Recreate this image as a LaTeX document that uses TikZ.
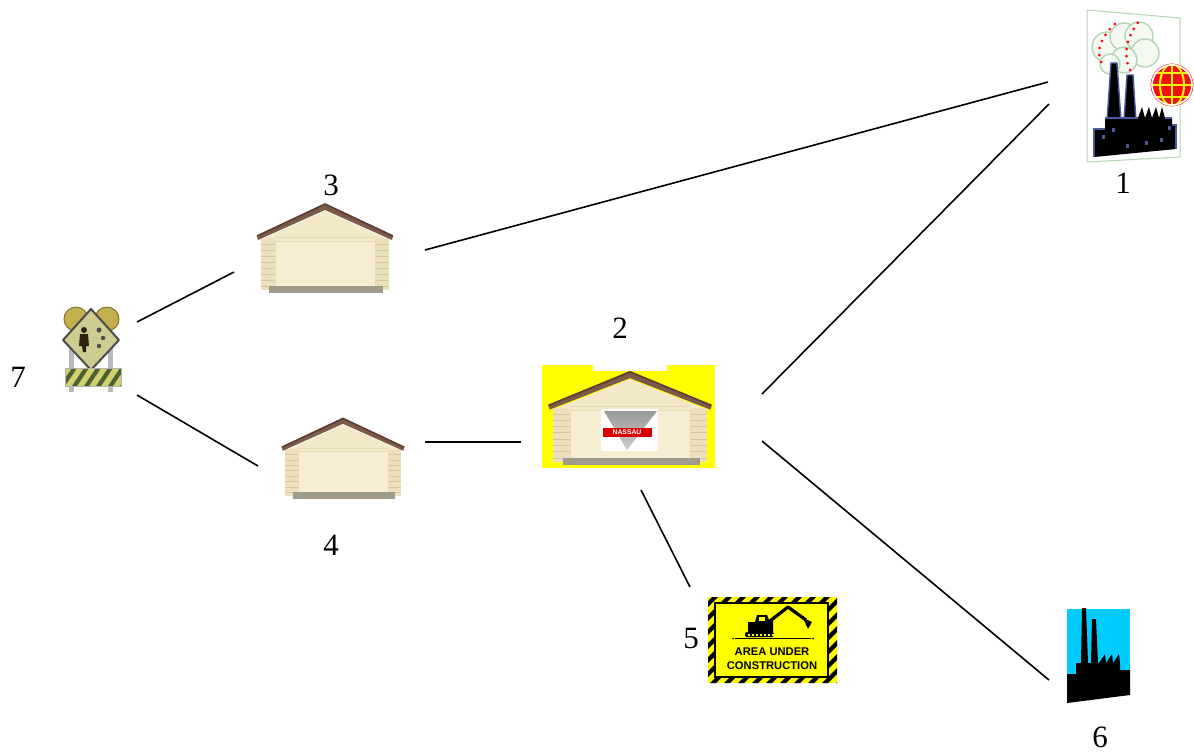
\documentclass[tikz,border=0pt]{standalone}
\usepackage{fontspec}
\setmainfont{Liberation Serif}
\newfontfamily\signfont{Liberation Sans}
\begin{document}
\definecolor{wallC}{HTML}{F3E8C8}
\definecolor{sideC}{HTML}{EDE0BE}
\definecolor{sidingC}{HTML}{D6C69E}
\definecolor{doorC}{HTML}{F6EDD2}
\definecolor{doorEdgeC}{HTML}{E6D9B8}
\definecolor{baseC}{HTML}{A09A8A}
\definecolor{roofC}{HTML}{7B5A4A}
\definecolor{roofDarkC}{HTML}{5A3C30}
\definecolor{signYellow}{HTML}{FFFF00}
\definecolor{skyCyan}{HTML}{00CCFF}
\definecolor{edgeBlue}{HTML}{4A5A9A}
\definecolor{paleGreen}{HTML}{B4D4B4}
\definecolor{cloudFill}{HTML}{F4F9F2}
\definecolor{globeRed}{HTML}{F01010}
\definecolor{olive}{HTML}{C2B050}
\definecolor{oliveDark}{HTML}{857630}
\definecolor{diamondC}{HTML}{CDCD92}
\definecolor{barC}{HTML}{D0D070}
\definecolor{barDark}{HTML}{4E6030}
\begin{tikzpicture}[x=0.5pt,y=-0.5pt,
  lbl/.style={font=\fontsize{15.5}{18}\selectfont, inner sep=0pt},
  link/.style={line width=0.8pt, black},
  iconbox/.style={inner sep=0pt, minimum width=#1},
  garage/.pic={
    % gable wall
    \fill[wallC] (-60,-10) -- (0,-37) -- (60,-10) -- (60,42) -- (-60,42) -- cycle;
    % side columns with siding
    \fill[sideC] (-64,-10) rectangle (-50,42);
    \fill[sideC] (50,-10) rectangle (64,42);
    \foreach \yy in {-4,2,...,40}{
      \draw[sidingC, line width=0.3pt] (-64,\yy) -- (-50,\yy);
      \draw[sidingC, line width=0.3pt] (50,\yy) -- (64,\yy);
    }
    % door
    \fill[doorC] (-50,-7) rectangle (50,39);
    \draw[doorEdgeC, line width=0.4pt] (-50,-7) rectangle (50,39);
    \draw[doorEdgeC, line width=0.3pt] (-50,-11) -- (50,-11);
    % base strip
    \fill[baseC] (-56,38) rectangle (58,45);
    % roof
    \fill[roofC] (-68,-12) -- (0,-44) -- (68,-12) -- (67,-8) -- (0,-38) -- (-67,-8) -- cycle;
    \draw[roofDarkC, line width=0.8pt, line join=round] (-68,-12) -- (0,-44) -- (68,-12);
  }
]
\useasboundingbox (0,0) rectangle (1194,752);
\fill[white] (0,0) rectangle (1194,752);

% ---------- node 3 : garage ----------
\node[iconbox=67pt, minimum height=45pt] (n3) at (325,248) {};
\pic at (n3) {garage};
\node[lbl] (l3) at (331,185) {3};

% ---------- node 4 : garage ----------
\node[iconbox=60pt, minimum height=40pt] (n4) at (343,458) {};
\pic[scale=0.9] at (n4) {garage};
\node[lbl] (l4) at (331,545) {4};

% ---------- node 2 : garage with logo ----------
\node[iconbox=86pt, minimum height=51pt] (n2) at (628,416) {};
\fill[signYellow] (542,365) rectangle (715,468);
\fill[white] (593,364) rectangle (667,371);
\pic[xscale=1.2, yscale=1.05] at (630,418) {garage};
\fill[white] (601,409) rectangle (658,451);
\shade[top color=gray!80, bottom color=gray!40] (604,411) -- (657,411) -- (627,450) -- cycle;
\fill[red!85!black] (603,428) rectangle (652,437);
\node[inner sep=0pt, text=white, font=\signfont\bfseries\fontsize{3.4}{4}\selectfont] (logo) at (627,432.5) {NASSAU};
\node[lbl] (l2) at (620,328) {2};

% ---------- node 1 : factory with globe ----------
\node[iconbox=50pt, minimum height=76pt] (n1) at (1133,86) {};
\draw[paleGreen, fill=white, line width=0.5pt] (1087,10) -- (1180,18) -- (1180,157) -- (1087,162) -- cycle;
\foreach \cx/\cy/\r in {1107/47/15, 1124/37/14, 1139/36/14, 1145/53/14, 1124/60/13, 1110/64/10}
  \draw[paleGreen, fill=cloudFill, line width=0.7pt] (\cx,\cy) circle (\r);
\draw[red, line width=1.5pt, line cap=round, dash pattern=on 0pt off 3.6pt]
  (1101,62) .. controls (1094,45) and (1108,30) .. (1118,21);
\draw[red, line width=1.5pt, line cap=round, dash pattern=on 0pt off 3.6pt]
  (1130,70) .. controls (1121,50) and (1130,32) .. (1140,20);
% chimneys
\draw[edgeBlue, fill=black, line width=0.7pt] (1111,63) -- (1117,63) -- (1121,121) -- (1107,121) -- cycle;
\draw[edgeBlue, fill=black, line width=0.7pt] (1127,75) -- (1133,75) -- (1136,121) -- (1124,121) -- cycle;
% building
\fill[black] (1094,157) -- (1094,129) -- (1105,129) -- (1105,118) -- (1138,118)
  -- (1142,107) -- (1145,118) -- (1149,107) -- (1152,118) -- (1156,107) -- (1159,118)
  -- (1162,107) -- (1165,118) -- (1172,118) -- (1172,125) -- (1176,125) -- (1176,149) -- cycle;
\draw[edgeBlue, line width=0.7pt] (1094,157) -- (1094,129) -- (1105,129) (1105,118) -- (1138,118)
  (1165,118) -- (1172,118) (1172,125) -- (1176,125) -- (1176,149);
\foreach \wx/\wy in {1102/135, 1112/128, 1126/144, 1145/141, 1160/138, 1168/126}
  \fill[edgeBlue] (\wx,\wy) rectangle ++(3,4);
% globe
\fill[globeRed] (1172,85) circle (22);
\begin{scope}
  \clip (1172,85) circle (21);
  \draw[yellow, line width=1pt] (1150,85) -- (1194,85) (1150,73) -- (1194,73) (1150,97) -- (1194,97)
    (1172,63) -- (1172,107);
  \draw[yellow, line width=1pt] (1172,85) ellipse (12 and 21);
\end{scope}
\draw[white, line width=0.8pt] (1172,85) circle (20);
\draw[white, line width=0.5pt] (1172,85) circle (22);
\node[lbl] (l1) at (1123,183) {1};

% ---------- node 5 : construction sign ----------
\node[iconbox=65pt, minimum height=43pt] (n5) at (772,640) {};
\begin{scope}
  \clip (708,597) rectangle (837,683);
  \fill[signYellow] (708,597) rectangle (837,683);
  \foreach \s in {600,614,...,940}
    \fill[black] (\s,597) -- (\s+6,597) -- (\s-80,683) -- (\s-86,683) -- cycle;
\end{scope}
\draw[black, fill=signYellow, line width=0.8pt] (715,603) rectangle (828,677);
% excavator
\fill[black] (748,632) -- (748,622) -- (755,622) -- (757,615) -- (767,615) -- (769,620) -- (773,620) -- (773,632) -- cycle;
\fill[signYellow] (759,617) rectangle (765,621);
\draw[black, line width=1.6pt, line join=round] (770,621) -- (788,607) -- (806,620);
\fill[black] (803,618) -- (812,622) -- (808,629) -- cycle;
\fill[black, rounded corners=1pt] (745,632) rectangle (774,637);
\foreach \tx in {748,752,...,772} \fill[signYellow] (\tx,634) rectangle ++(1.5,1.5);
\draw[black, line width=0.8pt] (735,638.5) -- (811,638.5);
\fill[black] (733,638.5) circle (0.8) (813,638.5) circle (0.8);
\node[inner sep=0pt, font=\signfont\bfseries\fontsize{5.6}{6.5}\selectfont] (s5a) at (772,652) {AREA UNDER};
\node[inner sep=0pt, font=\signfont\bfseries\fontsize{5.6}{6.5}\selectfont] (s5b) at (772,666) {CONSTRUCTION};
\node[lbl] (l5) at (691,638) {5};

% ---------- node 6 : factory on cyan ----------
\node[iconbox=32pt, minimum height=48pt] (n6) at (1098,655) {};
\fill[skyCyan] (1067,609) rectangle (1130,695);
\fill[black] (1067,703) -- (1067,674) -- (1076,674) -- (1076,663) -- (1081,663) -- (1082,608)
  -- (1086,608) -- (1088,663) -- (1091,663) -- (1092,619) -- (1096,619) -- (1098,663) -- (1099,663)
  -- (1105,654) -- (1106,663) -- (1112,654) -- (1113,663) -- (1119,654) -- (1120,663)
  -- (1120,670) -- (1130,670) -- (1130,695) -- cycle;
\node[lbl] (l6) at (1100,737) {6};

% ---------- node 7 : road works sign ----------
\node[iconbox=29pt, minimum height=44pt] (n7) at (91,348) {};
\fill[gray!55] (69,345) rectangle (74,392);
\fill[gray!55] (108,345) rectangle (113,392);
\draw[oliveDark, fill=olive, line width=0.5pt] (76,319) circle (12);
\draw[oliveDark, fill=olive, line width=0.5pt] (107,319) circle (12);
\draw[black!70, fill=diamondC, line width=1pt, line join=round] (91,309) -- (119,340) -- (91,370) -- (63,340) -- cycle;
% worker figure
\fill[black!75!brown] (84,330) circle (3);
\fill[black!75!brown] (80,334) -- (88,334) -- (89,346) -- (86,346) -- (86,352) -- (83,352) -- (82,346) -- (79,346) -- cycle;
\fill[black!70] (99,330) circle (2.5) (103,338) circle (2.2) (99,346) circle (2.2);
% barricade
\begin{scope}
  \clip (65,368) rectangle (121,386);
  \fill[barC] (65,368) rectangle (121,386);
  \foreach \s in {60,72,...,130}
    \fill[barDark] (\s,386) -- (\s+5,386) -- (\s+17,368) -- (\s+12,368) -- cycle;
\end{scope}
\draw[gray!60, line width=0.5pt] (65,368) rectangle (121,386);
\node[lbl] (l7) at (18,377) {7};

% ---------- connectors ----------
\coordinate (e73a) at (137,322); \coordinate (e73b) at (234,272);
\coordinate (e74a) at (137,395); \coordinate (e74b) at (258,466);
\coordinate (e31a) at (425,250); \coordinate (e31b) at (1048,82);
\coordinate (e42a) at (425,442); \coordinate (e42b) at (521,442);
\coordinate (e21a) at (762,394); \coordinate (e21b) at (1049,104);
\coordinate (e25a) at (641,490); \coordinate (e25b) at (690,587);
\coordinate (e26a) at (762,441); \coordinate (e26b) at (1049,680);
\draw[link] (e73a) -- (e73b);
\draw[link] (e74a) -- (e74b);
\draw[link] (e31a) -- (e31b);
\draw[link] (e42a) -- (e42b);
\draw[link] (e21a) -- (e21b);
\draw[link] (e25a) -- (e25b);
\draw[link] (e26a) -- (e26b);
\end{tikzpicture}
\end{document}
